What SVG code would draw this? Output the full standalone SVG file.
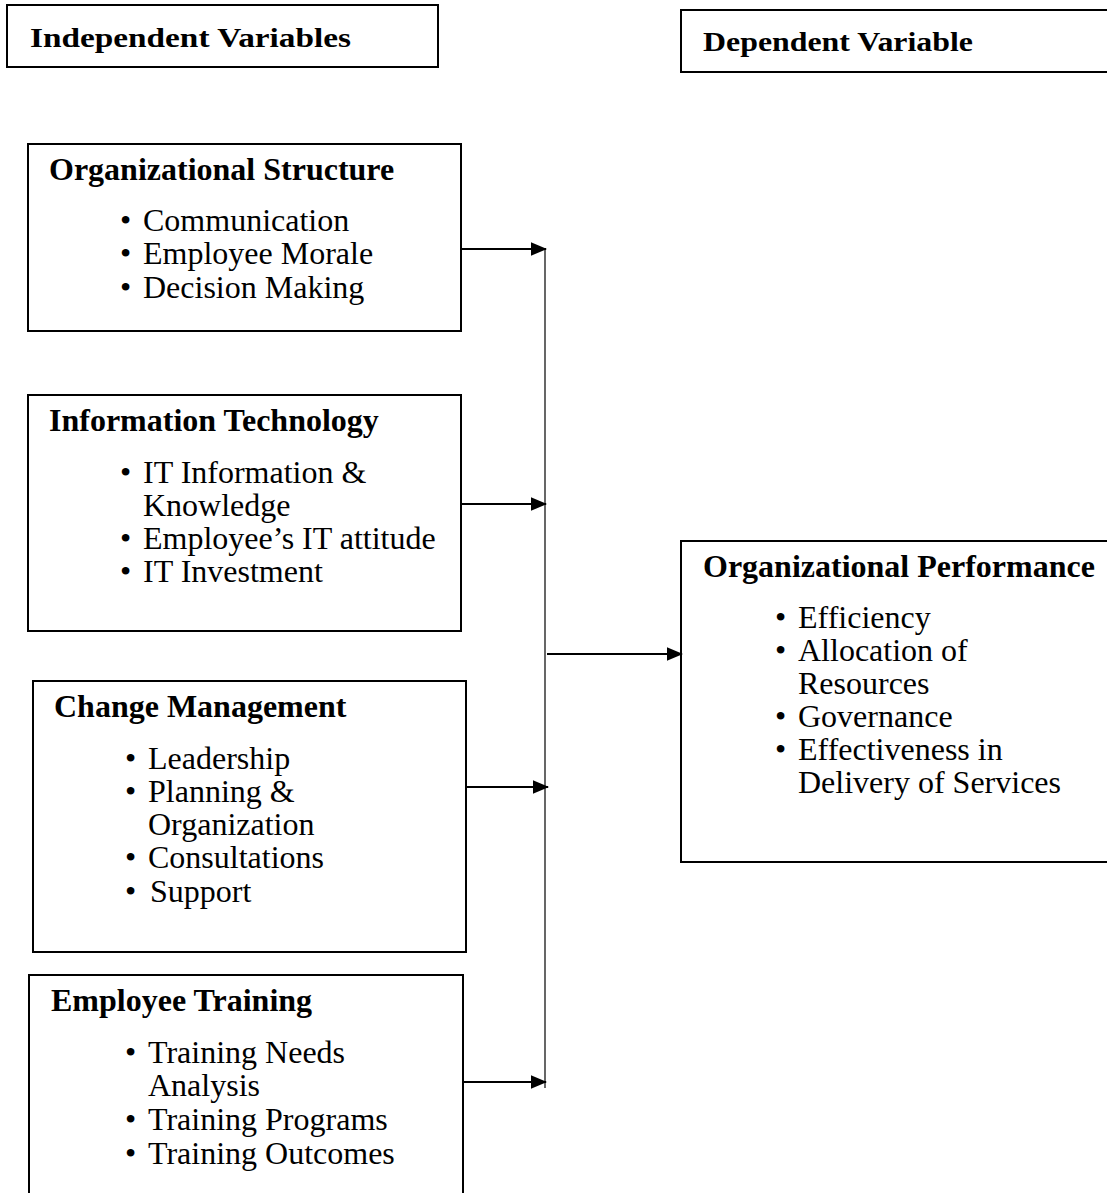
<svg xmlns="http://www.w3.org/2000/svg" width="1107" height="1193" viewBox="0 0 1107 1193">
  <style>
    .box { fill: #fff; stroke: #000; stroke-width: 2; }
    .hd { font-family: "Liberation Serif", "Times New Roman", serif; font-weight: bold; font-size: 32px; fill: #000; }
    .tt { font-family: "Liberation Serif", "Times New Roman", serif; font-weight: bold; font-size: 28px; fill: #000; }
    .it { font-family: "Liberation Serif", "Times New Roman", serif; font-size: 32px; fill: #000; }
    .conn { stroke: #000; stroke-width: 2; fill: none; }
    .spine { stroke: #000; stroke-width: 1.2; fill: none; }
  </style>
  <defs>
    <marker id="arrow" markerWidth="8" markerHeight="8" refX="7.5" refY="4" orient="auto" markerUnits="strokeWidth">
      <path d="M0,0.6 L8,4 L0,7.4 Z" fill="#000"/>
    </marker>
  </defs>
  <rect width="1107" height="1193" fill="#fff"/>

  <!-- Column titles -->
  <g id="title-independent">
    <rect class="box" x="7" y="5" width="431" height="62"/>
    <text class="tt" x="30" y="47" textLength="321" lengthAdjust="spacingAndGlyphs">Independent Variables</text>
  </g>
  <g id="title-dependent">
    <rect class="box" x="681" y="10" width="440" height="62"/>
    <text class="tt" x="703" y="51" textLength="270" lengthAdjust="spacingAndGlyphs">Dependent Variable</text>
  </g>

  <!-- Independent variable boxes -->
  <g id="organizational-structure">
    <rect class="box" x="28" y="144" width="433" height="187"/>
    <text class="hd" x="49" y="180">Organizational Structure</text>
    <text class="it" x="120" y="231">•</text><text class="it" x="143" y="231">Communication</text>
    <text class="it" x="120" y="264">•</text><text class="it" x="143" y="264">Employee Morale</text>
    <text class="it" x="120" y="298">•</text><text class="it" x="143" y="298">Decision Making</text>
  </g>

  <g id="information-technology">
    <rect class="box" x="28" y="395" width="433" height="236"/>
    <text class="hd" x="49" y="431">Information Technology</text>
    <text class="it" x="120" y="483">•</text><text class="it" x="143" y="483">IT Information &amp;</text>
    <text class="it" x="143" y="516">Knowledge</text>
    <text class="it" x="120" y="549">•</text><text class="it" x="143" y="549">Employee’s IT attitude</text>
    <text class="it" x="120" y="582">•</text><text class="it" x="143" y="582">IT Investment</text>
  </g>

  <g id="change-management">
    <rect class="box" x="33" y="681" width="433" height="271"/>
    <text class="hd" x="54" y="717">Change Management</text>
    <text class="it" x="125" y="769">•</text><text class="it" x="148" y="769">Leadership</text>
    <text class="it" x="125" y="802">•</text><text class="it" x="148" y="802">Planning &amp;</text>
    <text class="it" x="148" y="835">Organization</text>
    <text class="it" x="125" y="868">•</text><text class="it" x="148" y="868">Consultations</text>
    <text class="it" x="125" y="902">•</text><text class="it" x="150" y="902">Support</text>
  </g>

  <g id="employee-training">
    <path class="box" d="M29,1195 V975 H463 V1195"/>
    <text class="hd" x="51" y="1011">Employee Training</text>
    <text class="it" x="125" y="1063">•</text><text class="it" x="148" y="1063">Training Needs</text>
    <text class="it" x="148" y="1096">Analysis</text>
    <text class="it" x="125" y="1130">•</text><text class="it" x="148" y="1130">Training Programs</text>
    <text class="it" x="125" y="1164">•</text><text class="it" x="148" y="1164">Training Outcomes</text>
  </g>

  <!-- Dependent variable box -->
  <g id="organizational-performance">
    <rect class="box" x="681" y="541" width="440" height="321"/>
    <text class="hd" x="703" y="577">Organizational Performance</text>
    <text class="it" x="775" y="628">•</text><text class="it" x="798" y="628">Efficiency</text>
    <text class="it" x="775" y="661">•</text><text class="it" x="798" y="661">Allocation of</text>
    <text class="it" x="798" y="694">Resources</text>
    <text class="it" x="775" y="727">•</text><text class="it" x="798" y="727">Governance</text>
    <text class="it" x="775" y="760">•</text><text class="it" x="798" y="760">Effectiveness in</text>
    <text class="it" x="798" y="793">Delivery of Services</text>
  </g>

  <!-- Connectors -->
  <g id="connectors">
    <line class="spine" x1="545" y1="248" x2="545" y2="1088"/>
    <line class="conn" x1="462" y1="249" x2="546" y2="249" marker-end="url(#arrow)"/>
    <line class="conn" x1="462" y1="504" x2="546" y2="504" marker-end="url(#arrow)"/>
    <line class="conn" x1="467" y1="787" x2="548" y2="787" marker-end="url(#arrow)"/>
    <line class="conn" x1="464" y1="1082" x2="546" y2="1082" marker-end="url(#arrow)"/>
    <line class="conn" x1="547" y1="654" x2="682" y2="654" marker-end="url(#arrow)"/>
  </g>
</svg>
